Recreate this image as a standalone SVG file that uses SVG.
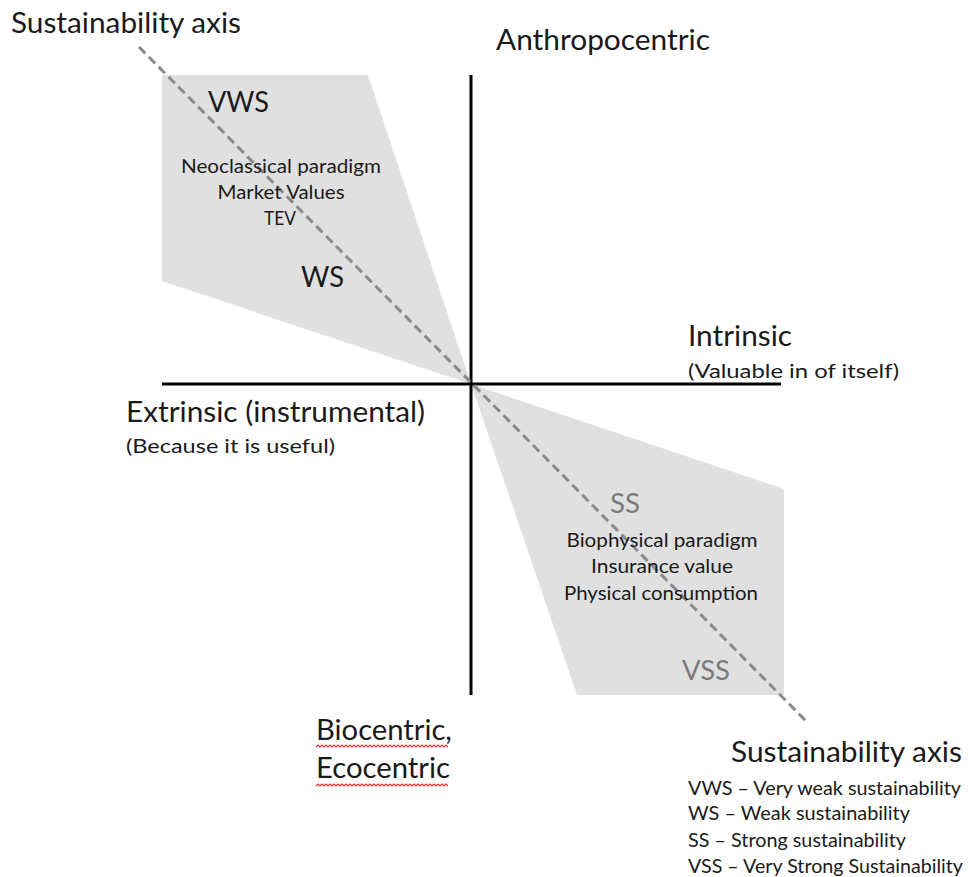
<svg xmlns="http://www.w3.org/2000/svg" width="968" height="877" viewBox="0 0 968 877">
<style>
text{font-family:Lato,"Open Sans","Liberation Sans",sans-serif;fill:#1a1a1a}
.big{font-size:28px}
.mid{font-size:26px}
.sm{font-size:19.5px}
.leg{font-size:19px}
.grey{fill:#7a7a7a}
.zone{fill:#e0e0e0}
.axis{stroke:#000;stroke-width:3;fill:none}
.dash{stroke:#8a8a8a;stroke-width:3;stroke-dasharray:9 5;fill:none}
.wavy{stroke:#e03030;stroke-width:1.2;fill:none}
</style>
<rect width="968" height="877" fill="#fff"/>
<g id="zone-weak"><polygon class="zone" points="162,75 368,75 471,384 162,281"/></g>
<g id="zone-strong"><polygon class="zone" points="471,384 784,489 784,695 577,695"/></g>
<g id="connectors">
<line class="axis" x1="471" y1="75" x2="471" y2="695"/>
<line class="axis" x1="162" y1="384" x2="781" y2="384"/>
<line class="dash" x1="139" y1="47" x2="808" y2="723"/>
</g>
<g id="label-sust-top"><text class="big" x="11" y="33" textLength="230" lengthAdjust="spacingAndGlyphs">Sustainability  axis</text></g>
<g id="label-anthro"><text class="big" x="496" y="50" textLength="214" lengthAdjust="spacingAndGlyphs">Anthropocentric</text></g>
<g id="label-vws">
<text class="big" x="208" y="112" textLength="61" lengthAdjust="spacingAndGlyphs">VWS</text>
<text class="sm" x="281" y="173" text-anchor="middle" textLength="200" lengthAdjust="spacingAndGlyphs">Neoclassical paradigm</text>
<text class="sm" x="281" y="199" text-anchor="middle" textLength="127" lengthAdjust="spacingAndGlyphs">Market Values</text>
<text class="sm" x="280" y="225" text-anchor="middle" textLength="32" lengthAdjust="spacingAndGlyphs">TEV</text>
</g>
<g id="label-ws"><text class="big" x="301" y="287" textLength="43" lengthAdjust="spacingAndGlyphs">WS</text></g>
<g id="label-intrinsic">
<text class="big" x="688" y="346" textLength="104" lengthAdjust="spacingAndGlyphs">Intrinsic</text>
<text class="sm" x="688" y="378" textLength="211" lengthAdjust="spacingAndGlyphs">(Valuable in of itself)</text>
</g>
<g id="label-extrinsic">
<text class="big" x="126" y="422" textLength="299" lengthAdjust="spacingAndGlyphs">Extrinsic (instrumental)</text>
<text class="sm" x="126" y="453" textLength="209" lengthAdjust="spacingAndGlyphs">(Because it is useful)</text>
</g>
<g id="label-ss">
<text class="mid grey" x="610" y="513" textLength="30" lengthAdjust="spacingAndGlyphs">SS</text>
<text class="sm" x="662" y="547" text-anchor="middle" textLength="191" lengthAdjust="spacingAndGlyphs">Biophysical paradigm</text>
<text class="sm" x="662" y="573" text-anchor="middle" textLength="142" lengthAdjust="spacingAndGlyphs">Insurance value</text>
<text class="sm" x="661" y="600" text-anchor="middle" textLength="194" lengthAdjust="spacingAndGlyphs">Physical consumption</text>
</g>
<g id="label-vss"><text class="mid grey" x="682" y="680" textLength="48" lengthAdjust="spacingAndGlyphs">VSS</text></g>
<g id="label-bio">
<text class="big" x="316" y="740" textLength="136" lengthAdjust="spacingAndGlyphs">Biocentric,</text>
<path class="wavy" d="M316 747 l2 -2 l2 2 l2 -2 l2 2 l2 -2 l2 2 l2 -2 l2 2 l2 -2 l2 2 l2 -2 l2 2 l2 -2 l2 2 l2 -2 l2 2 l2 -2 l2 2 l2 -2 l2 2 l2 -2 l2 2 l2 -2 l2 2 l2 -2 l2 2 l2 -2 l2 2 l2 -2 l2 2 l2 -2 l2 2 l2 -2 l2 2 l2 -2 l2 2 l2 -2 l2 2 l2 -2 l2 2 l2 -2 l2 2 l2 -2 l2 2 l2 -2 l2 2 l2 -2 l2 2 l2 -2 l2 2 l2 -2 l2 2 l2 -2 l2 2 l2 -2 l2 2 l2 -2 l2 2 l2 -2 l2 2 l2 -2 l2 2 l2 -2 l2 2 l2 -2 l2 2"/>
<text class="big" x="316" y="778" textLength="134" lengthAdjust="spacingAndGlyphs">Ecocentric</text>
<path class="wavy" d="M316 786 l2 -2 l2 2 l2 -2 l2 2 l2 -2 l2 2 l2 -2 l2 2 l2 -2 l2 2 l2 -2 l2 2 l2 -2 l2 2 l2 -2 l2 2 l2 -2 l2 2 l2 -2 l2 2 l2 -2 l2 2 l2 -2 l2 2 l2 -2 l2 2 l2 -2 l2 2 l2 -2 l2 2 l2 -2 l2 2 l2 -2 l2 2 l2 -2 l2 2 l2 -2 l2 2 l2 -2 l2 2 l2 -2 l2 2 l2 -2 l2 2 l2 -2 l2 2 l2 -2 l2 2 l2 -2 l2 2 l2 -2 l2 2 l2 -2 l2 2 l2 -2 l2 2 l2 -2 l2 2 l2 -2 l2 2 l2 -2 l2 2 l2 -2 l2 2 l2 -2 l2 2"/>
</g>
<g id="legend">
<text class="big" x="731" y="762" textLength="231" lengthAdjust="spacingAndGlyphs">Sustainability  axis</text>
<text class="leg" x="688" y="795" textLength="273" lengthAdjust="spacingAndGlyphs">VWS – Very weak sustainability</text>
<text class="leg" x="688" y="820" textLength="222" lengthAdjust="spacingAndGlyphs">WS – Weak sustainability</text>
<text class="leg" x="688" y="847" textLength="218" lengthAdjust="spacingAndGlyphs">SS – Strong sustainability</text>
<text class="leg" x="688" y="873" textLength="275" lengthAdjust="spacingAndGlyphs">VSS – Very Strong Sustainability</text>
</g>
</svg>
